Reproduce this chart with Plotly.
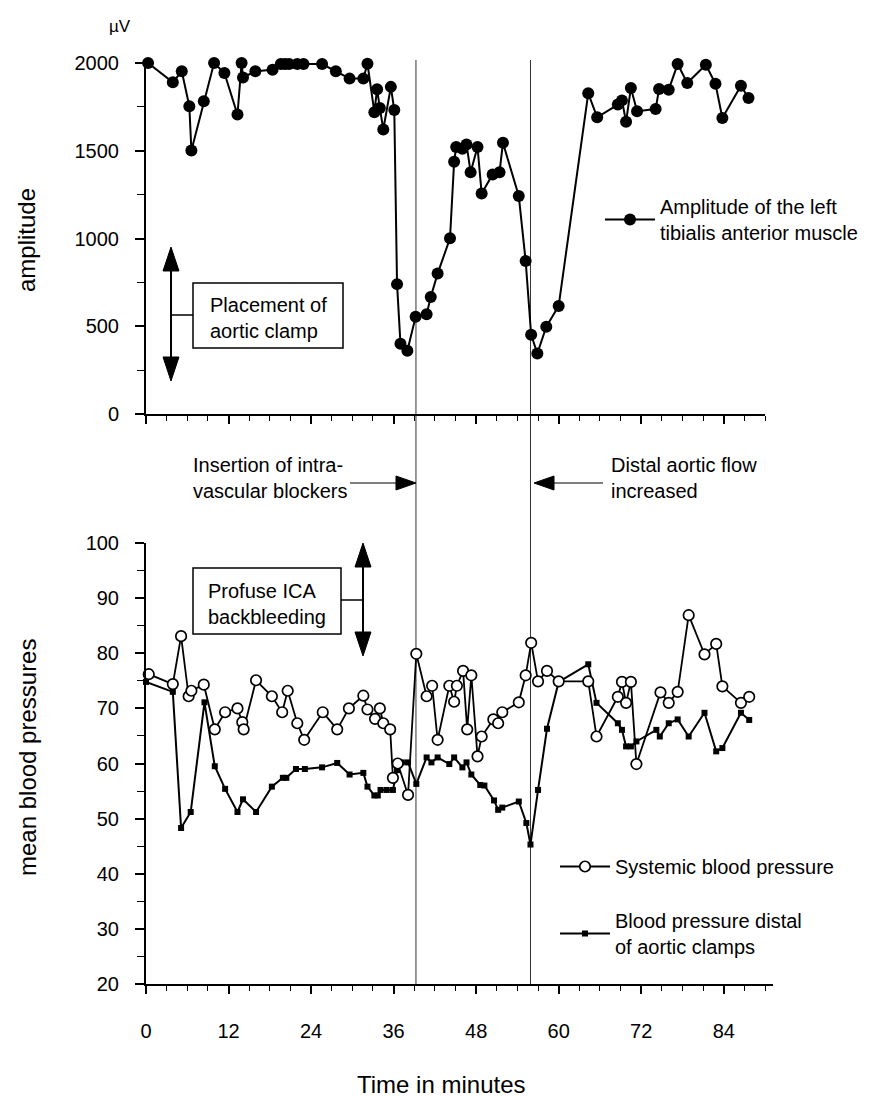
import plotly.graph_objects as go

# ---------------- data ----------------
t_amp = [0.3, 3.9, 5.2, 6.3, 6.6, 8.4, 9.9, 11.4, 13.3, 13.9,
         14.1, 15.9, 18.4, 19.6, 20.2, 20.8, 22.0, 22.9, 25.6, 27.6,
         29.6, 31.6, 32.2, 33.2, 33.6, 34.0, 34.5, 35.6, 36.1, 36.5,
         37.0, 38.0, 39.2, 40.8, 41.4, 42.4, 44.2, 44.8, 45.1, 46.0,
         46.6, 47.2, 48.2, 48.8, 50.4, 51.4, 51.9, 54.2, 55.2, 56.0,
         56.9, 58.2, 60.0, 64.3, 65.6, 68.6, 69.2, 69.8, 70.5, 71.4,
         74.1, 74.6, 76.0, 77.3, 78.7, 81.4, 82.8, 83.8, 86.5, 87.6]
amplitude = [2000, 1890, 1953, 1754, 1502, 1782, 2000, 1943, 1706, 2000,
             1918, 1953, 1962, 1994, 1994, 1994, 1994, 1994, 1994, 1953,
             1911, 1911, 1996, 1720, 1850, 1744, 1621, 1864, 1732, 740,
             400, 360, 554, 569, 667, 800, 1001, 1437, 1522, 1511,
             1536, 1378, 1522, 1257, 1365, 1378, 1545, 1242, 872, 451,
             345, 497, 616, 1827, 1691, 1763, 1787, 1665, 1858, 1725,
             1738, 1852, 1848, 1994, 1886, 1990, 1882, 1687, 1871, 1801]

t_sys = [0.4, 3.9, 5.1, 6.2, 6.6, 8.4, 10.0, 11.5, 13.3, 14.0,
         14.2, 16.0, 18.3, 19.8, 20.6, 22.0, 23.0, 25.7, 27.8, 29.5,
         31.6, 32.2, 33.3, 34.0, 34.5, 35.5, 35.9, 36.6, 38.1, 39.3,
         40.8, 41.6, 42.4, 44.1, 44.8, 45.2, 46.1, 46.7, 47.3, 48.2,
         48.8, 50.5, 51.2, 51.8, 54.2, 55.2, 56.0, 57.0, 58.3, 60.0,
         64.3, 65.5, 68.6, 69.2, 69.8, 70.5, 71.3, 74.8, 76.0, 77.3,
         78.9, 81.2, 82.9, 83.8, 86.5, 87.7]
systemic = [76.2, 74.4, 83.1, 72.2, 73.2, 74.3, 66.2, 69.3, 70.0, 67.5,
            66.2, 75.1, 72.2, 69.3, 73.2, 67.3, 64.3, 69.3, 66.2, 70.0,
            72.3, 69.8, 68.1, 70.0, 67.3, 66.2, 57.4, 60.0, 54.3, 79.9,
            72.2, 74.1, 64.3, 74.1, 71.2, 74.1, 76.8, 66.2, 76.0, 61.3,
            64.9, 68.0, 67.3, 69.3, 71.1, 76.0, 81.9, 74.9, 76.8, 74.9,
            74.9, 64.9, 72.1, 74.8, 71.0, 74.8, 59.9, 72.9, 71.0, 73.0,
            86.9, 79.8, 81.7, 74.0, 71.0, 72.1]

t_dis = [0.0, 3.9, 5.1, 6.5, 8.5, 10.0, 11.5, 13.3, 14.1, 16.0,
         18.3, 19.9, 20.4, 21.8, 23.1, 25.6, 27.8, 29.6, 31.6, 32.2,
         33.2, 33.7, 34.1, 35.0, 35.9, 36.5, 37.2, 38.1, 39.3, 40.8,
         41.5, 42.4, 44.1, 44.8, 46.0, 46.6, 47.3, 48.6, 49.2, 50.6,
         51.2, 51.8, 54.2, 55.3, 55.9, 57.0, 58.3, 60.0, 64.3, 65.5,
         68.6, 69.2, 69.8, 70.5, 71.3, 74.2, 74.7, 76.0, 77.3, 78.9,
         81.2, 82.9, 83.8, 86.5, 87.7]
distal = [74.8, 73.0, 48.3, 51.2, 71.1, 59.5, 55.4, 51.2, 53.5, 51.2,
          55.8, 57.4, 57.4, 59.0, 59.0, 59.3, 60.1, 58.0, 58.3, 55.8,
          54.2, 54.2, 55.2, 55.2, 55.2, 58.8, 60.2, 60.2, 56.3, 61.1,
          60.2, 61.1, 59.9, 61.1, 59.3, 60.2, 58.0, 56.1, 56.0, 53.3,
          51.6, 52.0, 53.1, 49.2, 45.3, 55.2, 66.3, 74.8, 78.0, 71.0,
          67.3, 66.1, 63.1, 63.1, 64.0, 66.1, 64.9, 67.3, 68.0, 64.9,
          69.2, 62.2, 62.8, 69.2, 67.9]

event_times = [39.25, 55.9]
x_ticks = [0, 12, 24, 36, 48, 60, 72, 84]

# ---------------- layout helpers ----------------
W, H = 871, 1096
FONT = "Liberation Sans, Arial, Helvetica, sans-serif"


def px(x):
    return x / W


def py(y):
    return 1 - y / H


fig = go.Figure()

fig.add_trace(go.Scatter(
    x=t_amp, y=amplitude, xaxis="x", yaxis="y", mode="lines+markers",
    name="Amplitude of the left<br>tibialis anterior muscle", legend="legend",
    line=dict(color="black", width=2),
    marker=dict(symbol="circle", size=12, color="black"),
    cliponaxis=False))

fig.add_trace(go.Scatter(
    x=t_dis, y=distal, xaxis="x2", yaxis="y2", mode="lines+markers",
    name="Blood pressure distal<br>of aortic clamps", legend="legend2",
    legendgroup="b", legendrank=2,
    line=dict(color="black", width=2),
    marker=dict(symbol="square", size=6, color="black"),
    cliponaxis=False))

fig.add_trace(go.Scatter(
    x=t_sys, y=systemic, xaxis="x2", yaxis="y2", mode="lines+markers",
    name="Systemic blood pressure", legend="legend2",
    legendgroup="a", legendrank=1,
    line=dict(color="black", width=1.8),
    marker=dict(symbol="circle", size=10.5, color="white",
                line=dict(color="black", width=1.7)),
    cliponaxis=False))

axis_common = dict(showline=True, linecolor="black", linewidth=2,
                   ticks="outside", tickcolor="black", tickwidth=1.5,
                   showgrid=False, zeroline=False,
                   tickfont=dict(family=FONT, size=20, color="black"))

minor_x = dict(dtick=3, tick0=0, ticks="outside", ticklen=5,
               tickwidth=1.3, tickcolor="black", showgrid=False)

shapes = []
# vertical event lines crossing both panels
for t in event_times:
    shapes.append(dict(type="line", xref="x2", yref="paper", x0=t, x1=t,
                       y0=py(976), y1=py(52),
                       line=dict(color="#333", width=1), layer="below"))


def line(x0, y0, x1, y1, w=1.5):
    shapes.append(dict(type="line", xref="paper", yref="paper",
                       x0=px(x0), y0=py(y0), x1=px(x1), y1=py(y1),
                       line=dict(color="black", width=w)))


def tri(pts):
    d = "M " + " L ".join(f"{px(a):.5f},{py(b):.5f}" for a, b in pts) + " Z"
    shapes.append(dict(type="path", xref="paper", yref="paper", path=d,
                       fillcolor="black", line=dict(color="black", width=1)))


def rect(x0, y0, x1, y1):
    shapes.append(dict(type="rect", xref="paper", yref="paper",
                       x0=px(x0), y0=py(y1), x1=px(x1), y1=py(y0),
                       line=dict(color="black", width=1.5),
                       fillcolor="white"))


def vdouble(x, ytop, ybot):
    line(x, ytop + 20, x, ybot - 20, 2)
    tri([(x, ytop), (x - 8, ytop + 24), (x + 8, ytop + 24)])
    tri([(x, ybot), (x - 8, ybot - 24), (x + 8, ybot - 24)])


# top panel: placement of aortic clamp
rect(185, 275, 335, 340)
vdouble(163, 239, 373)
line(163, 307, 185, 307)
# bottom panel: profuse ICA backbleeding
rect(185, 560, 333, 626)
vdouble(355, 535, 648)
line(333, 592, 355, 592)
# middle arrows
line(342, 475, 390, 475, 1.2)
tri([(408, 475), (388, 468), (388, 482)])
line(546, 475, 595, 475, 1.2)
tri([(526, 475), (546, 468), (546, 482)])

annotations = []


def text(x, y, s, size=20, anchor="left", angle=0):
    annotations.append(dict(xref="paper", yref="paper", x=px(x), y=py(y),
                            text=s, showarrow=False, xanchor=anchor,
                            yanchor="middle", align="left", textangle=angle,
                            font=dict(family=FONT, size=size, color="black")))


text(200, 309.5, "Placement of<br>aortic clamp")
text(198, 595.5, "Profuse ICA<br>backbleeding")
text(183, 470, "Insertion of intra-<br>vascular blockers")
text(601, 470, "Distal aortic flow<br>increased")
text(112, 19, "µV", size=17, anchor="center")
text(19, 232, "amplitude", size=24, anchor="center", angle=-90)
text(19, 750, "mean blood pressures", size=24, anchor="center", angle=-90)
text(433, 1076, "Time in minutes", size=24, anchor="center")

fig.update_layout(
    width=W, height=H, autosize=False,
    margin=dict(l=0, r=0, t=0, b=0, autoexpand=False),
    paper_bgcolor="white", plot_bgcolor="white",
    font=dict(family=FONT, size=20, color="black"),
    xaxis=dict(domain=[px(138), px(757)], range=[0, 90], anchor="y",
               dtick=12, tick0=0, ticklen=8, showticklabels=False,
               minor=minor_x, **axis_common),
    yaxis=dict(domain=[py(406), py(55)], range=[0, 2000], anchor="x",
               dtick=500, ticklen=9, ticklabelstandoff=12,
               minor=dict(dtick=250, ticks="outside", ticklen=7,
                          tickwidth=1.3, tickcolor="black", showgrid=False),
               **axis_common),
    xaxis2=dict(domain=[px(138), px(765)], range=[0, 627 / 6.878],
                anchor="y2", tickvals=x_ticks, ticklen=8,
                ticklabelstandoff=20, minor=minor_x, **axis_common),
    yaxis2=dict(domain=[py(976), py(535)], range=[20, 100], anchor="x2",
                dtick=10, ticklen=9, ticklabelstandoff=12,
                minor=dict(dtick=5, ticks="outside", ticklen=7,
                           tickwidth=1.3, tickcolor="black", showgrid=False),
                **axis_common),
    legend=dict(x=px(592), y=py(179), xanchor="left", yanchor="top",
                itemwidth=50, font=dict(family=FONT, size=20),
                bgcolor="rgba(0,0,0,0)"),
    legend2=dict(x=px(547), y=py(839), xanchor="left", yanchor="top",
                 itemwidth=50, tracegroupgap=25,
                 font=dict(family=FONT, size=20),
                 bgcolor="rgba(0,0,0,0)"),
    showlegend=True,
    shapes=shapes,
    annotations=annotations,
)

fig.write_html("out.html")
